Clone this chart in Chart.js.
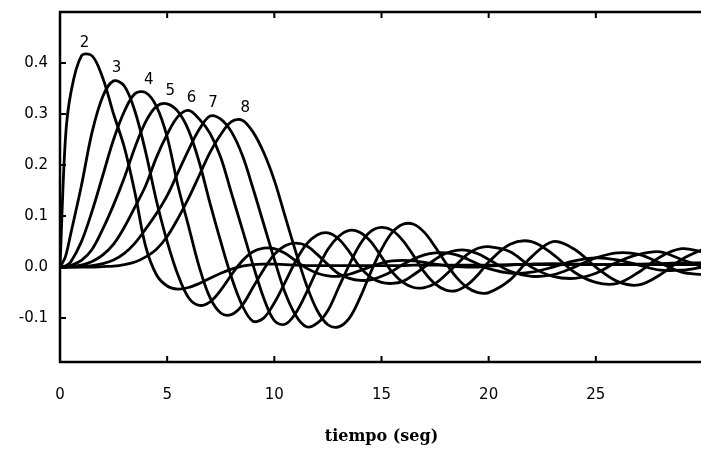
<!DOCTYPE html>
<html>
<head>
<meta charset="utf-8">
<script src="https://cdn.jsdelivr.net/npm/chart.js@4"></script>
<style>
  html, body { margin: 0; padding: 0; background: #fff; overflow: hidden; }
  #wrap { width: 704px; height: 460px; }
</style>
</head>
<body>
<div id="wrap"><canvas id="respChart" width="704" height="460"></canvas></div>
<script>
// time axis (seconds), shared by every curve
const tiempo = [0, 0.25, 0.5, 1, 1.5, 2, 2.5, 3,
  3.5, 4, 4.5, 5, 5.5, 6, 6.5, 7,
  7.5, 8, 8.5, 9, 9.5, 10, 10.5, 11,
  11.5, 12, 12.5, 13, 13.5, 14, 14.5, 15,
  15.5, 16, 16.5, 17, 17.5, 18, 18.5, 19,
  19.5, 20, 21, 22, 23, 24, 25, 26,
  27, 28, 29, 30];

// curve labels as printed above the peaks
const curveNames = ['2', '3', '4', '5', '6', '7', '8'];

const curve2 = [0, 0.25, 0.34, 0.414, 0.414, 0.37, 0.3, 0.235,
  0.145, 0.04, -0.015, -0.037, -0.043, -0.04, -0.032, -0.022,
  -0.012, -0.004, 0.002, 0.005, 0.006, 0.006, 0.005, 0.004,
  0.003, 0.003, 0.003, 0.003, 0.003, 0.003, 0.003, 0.003,
  0.003, 0.003, 0.004, 0.004, 0.004, 0.004, 0.004, 0.004,
  0.004, 0.004, 0.005, 0.005, 0.005, 0.005, 0.005, 0.005,
  0.005, 0.005, 0.005, 0.005];

const curve3 = [0, 0.02, 0.065, 0.16, 0.265, 0.335, 0.365, 0.355,
  0.305, 0.225, 0.13, 0.05, -0.015, -0.06, -0.075, -0.068,
  -0.045, -0.015, 0.012, 0.03, 0.037, 0.036, 0.027, 0.012,
  -0.002, -0.012, -0.017, -0.018, -0.014, -0.007, 0.001, 0.008,
  0.012, 0.013, 0.012, 0.009, 0.006, 0.003, 0.001, 0.0,
  0.0, 0.002, 0.004, 0.006, 0.007, 0.006, 0.005, 0.005,
  0.006, 0.007, 0.008, 0.008];

const curve4 = [0, 0.002, 0.01, 0.05, 0.11, 0.18, 0.25, 0.305,
  0.34, 0.342, 0.315, 0.255, 0.16, 0.08, 0.0, -0.06,
  -0.09, -0.093, -0.075, -0.04, -0.005, 0.025, 0.042, 0.047,
  0.042, 0.025, 0.005, -0.013, -0.022, -0.026, -0.025, -0.018,
  -0.008, 0.005, 0.016, 0.024, 0.028, 0.028, 0.024, 0.016,
  0.006, -0.003, -0.012, -0.01, 0.0, 0.012, 0.018, 0.014,
  0.004, -0.006, -0.006, 0.0];

const curve5 = [0, 0.0, 0.003, 0.013, 0.035, 0.075, 0.122, 0.175,
  0.235, 0.285, 0.315, 0.32, 0.305, 0.268, 0.205, 0.125,
  0.05, -0.02, -0.075, -0.106, -0.1, -0.07, -0.03, 0.012,
  0.045, 0.063, 0.067, 0.055, 0.03, 0.0, -0.02, -0.03,
  -0.032, -0.028, -0.015, 0.0, 0.015, 0.027, 0.033, 0.033,
  0.026, 0.015, -0.008, -0.018, -0.015, 0.0, 0.018, 0.028,
  0.025, 0.008, -0.01, -0.015];

const curve6 = [0, 0, 0.001, 0.004, 0.011, 0.024, 0.045, 0.078,
  0.118, 0.16, 0.215, 0.26, 0.295, 0.307, 0.29, 0.262,
  0.215, 0.145, 0.075, 0.005, -0.06, -0.105, -0.112, -0.09,
  -0.05, -0.005, 0.035, 0.06, 0.072, 0.068, 0.05, 0.02,
  -0.01, -0.03, -0.04, -0.04, -0.032, -0.015, 0.005, 0.025,
  0.037, 0.04, 0.03, 0.0, -0.018, -0.022, -0.012, 0.01,
  0.025, 0.03, 0.015, 0.0];

const curve7 = [0, 0, 0, 0.001, 0.003, 0.007, 0.014, 0.027,
  0.047, 0.075, 0.105, 0.14, 0.185, 0.23, 0.27, 0.296,
  0.29, 0.265, 0.22, 0.155, 0.085, 0.015, -0.05, -0.095,
  -0.117, -0.11, -0.085, -0.04, 0.005, 0.045, 0.07, 0.078,
  0.072, 0.052, 0.022, -0.01, -0.033, -0.045, -0.046, -0.035,
  -0.015, 0.01, 0.045, 0.05, 0.025, -0.01, -0.03, -0.032,
  -0.01, 0.02, 0.036, 0.03];

const curve8 = [0, 0, 0, 0, 0, 0.001, 0.002, 0.005,
  0.01, 0.02, 0.035, 0.06, 0.095, 0.135, 0.18, 0.225,
  0.26, 0.285, 0.288, 0.265, 0.225, 0.17, 0.1, 0.03,
  -0.035, -0.085, -0.113, -0.117, -0.1, -0.06, -0.01, 0.035,
  0.068, 0.084, 0.084, 0.068, 0.04, 0.008, -0.02, -0.04,
  -0.05, -0.05, -0.025, 0.02, 0.05, 0.035, 0.0, -0.028,
  -0.035, -0.015, 0.015, 0.035];

const allCurves = [curve2, curve3, curve4, curve5, curve6, curve7, curve8];

// tick labels
const xTicks = [0, 5, 10, 15, 20, 25];
const yTicks = [-0.1, 0.0, 0.1, 0.2, 0.3, 0.4];

const datasets = allCurves.map((vals, i) => ({
    label: curveNames[i],
    data: vals.map((v, k) => ({ x: tiempo[k], y: v })),
    borderColor: '#000',
    borderWidth: 2.8,
    pointRadius: 0,
    tension: 0.35,
    fill: false
}));

// frame, inward tick marks and the numbers over each peak
const framePlugin = {
    id: 'frame',
    afterDatasetsDraw(chart) {
        const ctx = chart.ctx;
        const a = chart.chartArea;
        const x = chart.scales.x;
        const y = chart.scales.y;
        ctx.save();
        ctx.strokeStyle = '#000';
        ctx.lineWidth = 2.5;
        ctx.strokeRect(a.left, a.top, a.right - a.left, a.bottom - a.top);

        ctx.lineWidth = 2;
        ctx.beginPath();
        xTicks.forEach(v => {
            if (v === 0) return;
            const px = x.getPixelForValue(v);
            ctx.moveTo(px, a.bottom);
            ctx.lineTo(px, a.bottom - 6);
            ctx.moveTo(px, a.top);
            ctx.lineTo(px, a.top + 6);
        });
        yTicks.forEach(v => {
            const py = y.getPixelForValue(v);
            ctx.moveTo(a.left, py);
            ctx.lineTo(a.left + 6, py);
        });
        ctx.stroke();

        ctx.fillStyle = '#000';
        ctx.font = '15px "DejaVu Sans"';
        ctx.textAlign = 'center';
        ctx.textBaseline = 'bottom';
        chart.data.datasets.forEach(ds => {
            let best = ds.data[0];
            ds.data.forEach(p => { if (p.y > best.y) best = p; });
            ctx.fillText(ds.label, x.getPixelForValue(best.x) + 3, y.getPixelForValue(best.y) - 5);
        });
        ctx.restore();
    }
};

new Chart(document.getElementById('respChart').getContext('2d'), {
    type: 'line',
    data: { datasets: datasets },
    options: {
        responsive: false,
        animation: false,
        layout: { padding: { top: 12, right: 1, left: 0, bottom: 0 } },
        plugins: {
            legend: { display: false },
            tooltip: { enabled: false }
        },
        scales: {
            x: {
                type: 'linear',
                min: 0,
                max: 30,
                grid: { display: false, drawTicks: false },
                border: { display: false },
                afterBuildTicks: scale => { scale.ticks = xTicks.map(v => ({ value: v })); },
                afterFit: scale => { scale.height = 98; scale.paddingLeft = 0; scale.paddingRight = 0; },
                ticks: {
                    color: '#000',
                    padding: 24,
                    maxRotation: 0,
                    font: { family: 'DejaVu Sans', size: 15 },
                    callback: v => String(v)
                },
                title: {
                    display: true,
                    text: 'tiempo (seg)',
                    color: '#000',
                    font: { family: 'DejaVu Serif', size: 16, weight: 'bold' },
                    padding: { top: 0, bottom: 14 }
                }
            },
            y: {
                min: -0.186,
                max: 0.5,
                grid: { display: false, drawTicks: false },
                border: { display: false },
                afterBuildTicks: scale => { scale.ticks = yTicks.map(v => ({ value: v })); },
                afterFit: scale => { scale.width = 60; scale.paddingTop = 0; scale.paddingBottom = 0; },
                ticks: {
                    color: '#000',
                    padding: 12,
                    font: { family: 'DejaVu Sans', size: 15 },
                    callback: v => v.toFixed(1)
                }
            }
        }
    },
    plugins: [framePlugin]
});
</script>
</body>
</html>
